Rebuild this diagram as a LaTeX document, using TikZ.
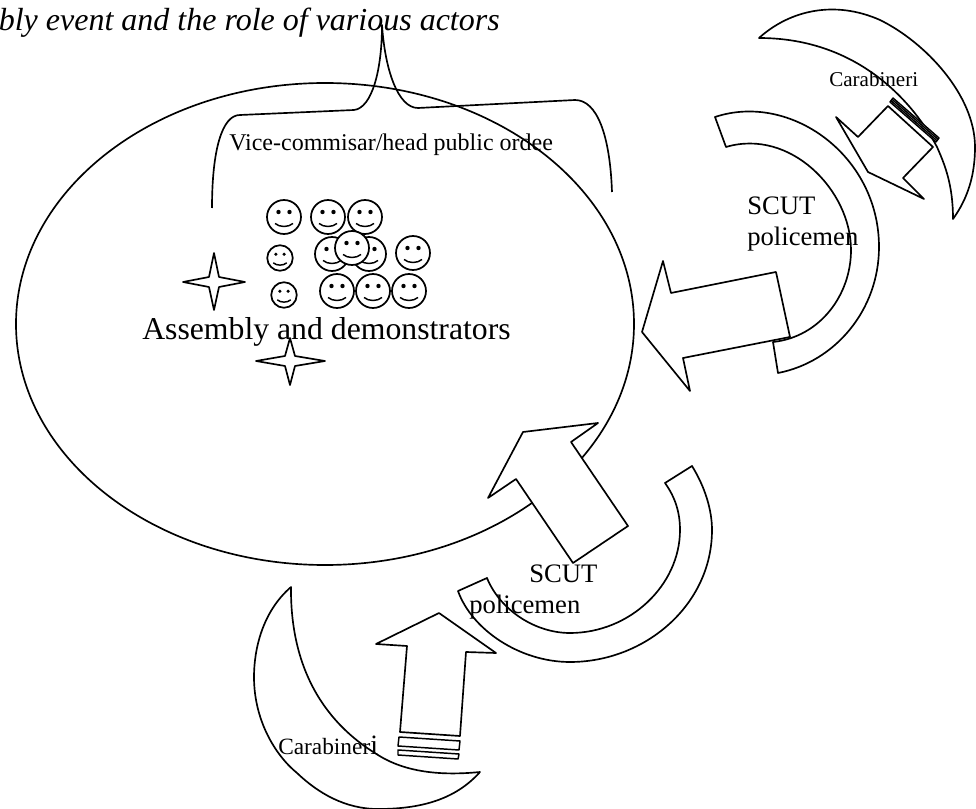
\documentclass[tikz,border=0pt]{standalone}
\usepackage{fontspec}
\setmainfont{Liberation Serif}
\tikzset{
    pics/smiley/.style = {code = {
        \draw[fill=white, line width=1.3pt] (0, 0) circle (17);
        \fill (-5.5, -5) circle (2.2);
        \fill (5.5, -5) circle (2.2);
        \draw[line width=1.1pt] (-9, 6.5) .. controls (-4, 10.5) and (4, 10.5) .. (9, 6.5);
    }}
}

\begin{document}
\begin{tikzpicture}[
        x = 0.75pt,
        y = -0.75pt,
        line join=round,
        shapestyle/.style = {line width=1.25pt, fill=white},
        linestyle/.style = {line width=1.25pt},
        stripestyle/.style = {line width=1.1pt, fill=white},
        labelstyle/.style = {inner sep=0pt, anchor=base west, align=left}
    ]
        \useasboundingbox (0, 0) rectangle (976, 809);

        % assembly
        \draw[linestyle] (325, 324) ellipse (309 and 241);

        % brace
        \draw[linestyle] (212, 208) .. controls (212, 150) and (222, 115) .. (240, 115)
            -- (354, 110) .. controls (372, 108) and (382, 70) .. (382, 25)
            .. controls (385, 70) and (398, 108) .. (418, 108)
            -- (575, 100) .. controls (597, 100) and (610, 135) .. (612, 192);

        % stars
        \draw[linestyle, fill=white] (214, 253) -- (219, 277) -- (245, 282) -- (219, 287) -- (214, 310) -- (209, 287) -- (183, 282) -- (209, 277) -- cycle;
        \draw[linestyle, fill=white] (290, 338) -- (295, 356) -- (325, 361) -- (295, 366) -- (290, 385) -- (285, 366) -- (256, 361) -- (285, 356) -- cycle;

        % people
        \pic at (284, 217) {smiley};
        \pic at (328, 217) {smiley};
        \pic at (365, 217) {smiley};
        \pic[scale=0.75] at (280, 258) {smiley};
        \pic at (332, 254) {smiley};
        \pic at (369, 254) {smiley};
        \pic at (352, 248) {smiley};
        \pic at (413, 253) {smiley};
        \pic[scale=0.75] at (284, 295) {smiley};
        \pic at (337, 291) {smiley};
        \pic at (373, 291) {smiley};
        \pic at (409, 291) {smiley};

        % right side
        \draw[shapestyle] (776, 272) -- (671, 293) -- (663, 261) -- (642, 332) -- (690, 391) -- (683, 358) -- (790, 337) -- cycle;
        \draw[shapestyle] (715, 117) .. controls (790, 92) and (879, 155) .. (879, 247)
            .. controls (879, 310) and (835, 362) .. (778, 373) -- (773, 342)
            .. controls (820, 337) and (851, 295) .. (851, 250)
            .. controls (851, 190) and (790, 128) .. (726, 147) -- cycle;

        \draw[shapestyle] (759, 38) .. controls (790, 10) and (835, 0) .. (880, 20)
            .. controls (925, 42) and (975, 95) .. (975, 147)
            .. controls (975, 175) and (968, 198) .. (953, 219)
            .. controls (953, 185) and (945, 165) .. (937, 147)
            .. controls (915, 105) and (860, 38) .. (759, 38) -- cycle;
        \draw[shapestyle] (888, 106) -- (858, 137) -- (836, 117) -- (868, 172) -- (924, 199) -- (903, 178) -- (933, 147) -- cycle;
        \draw[stripestyle] (890, 102) -- (893, 98) -- (939, 138) -- (936, 142) -- cycle;
        \draw[stripestyle] (891, 100.7) -- (937, 140.7);
        \draw[stripestyle] (892, 99.3) -- (938, 139.3);

        % bottom side
        \draw[shapestyle] (573, 563) -- (516, 479) -- (488, 498) -- (523, 432) -- (598, 423) -- (571, 442) -- (628, 526) -- cycle;
        \draw[shapestyle] (692, 466) .. controls (705, 487) and (712, 510) .. (712, 530)
            .. controls (712, 605) and (645, 662) .. (570, 662)
            .. controls (520, 662) and (472, 630) .. (458, 591) -- (487, 578)
            .. controls (500, 610) and (535, 633) .. (570, 633)
            .. controls (630, 633) and (680, 585) .. (680, 530)
            .. controls (680, 512) and (675, 497) .. (665, 483) -- cycle;

        \draw[shapestyle] (291, 587) .. controls (262, 612) and (254, 650) .. (254, 677)
            .. controls (254, 720) and (275, 755) .. (297, 773)
            .. controls (318, 793) and (345, 809) .. (378, 809)
            .. controls (420, 809) and (455, 800) .. (480, 772)
            .. controls (440, 776) and (405, 772) .. (378, 755)
            .. controls (345, 735) and (290, 690) .. (291, 587) -- cycle;
        \draw[shapestyle] (400, 732) -- (407, 646) -- (376, 644) -- (439, 613) -- (496, 653) -- (466, 652) -- (460, 736) -- cycle;
        \draw[stripestyle] (399, 737) -- (460, 741) -- (459, 750) -- (398, 746) -- cycle;
        \draw[stripestyle] (398, 750) -- (459, 754) -- (458, 759) -- (398, 755) -- cycle;

        % labels
        \node[labelstyle, anchor=base east, font=\fontsize{24}{29}\selectfont\itshape] (title) at (500, 31) {bly event and the role of various actors};
        \node[labelstyle, font=\fontsize{18}{22}\selectfont] (vice) at (229, 151) {Vice-commisar/head public ordee};
        \node[labelstyle, font=\fontsize{23.8}{29}\selectfont] (assembly) at (142, 340) {Assembly and demonstrators};
        \node[labelstyle, font=\fontsize{20}{24}\selectfont] (topscut) at (747, 215) {SCUT};
        \node[labelstyle, font=\fontsize{20}{24}\selectfont] (toppolice) at (747, 246) {policemen};
        \node[labelstyle, font=\fontsize{15.8}{19}\selectfont] (topcarab) at (829, 87) {Carabineri};
        \node[labelstyle, font=\fontsize{20}{24}\selectfont] (botscut) at (529, 583) {SCUT};
        \node[labelstyle, font=\fontsize{20}{24}\selectfont] (botpolice) at (469, 614) {policemen};
        \node[labelstyle, font=\fontsize{17.5}{21}\selectfont] (botcarab) at (278, 754) {Carabiner{\fontsize{21}{25}\selectfont i}};
\end{tikzpicture}
\end{document}
